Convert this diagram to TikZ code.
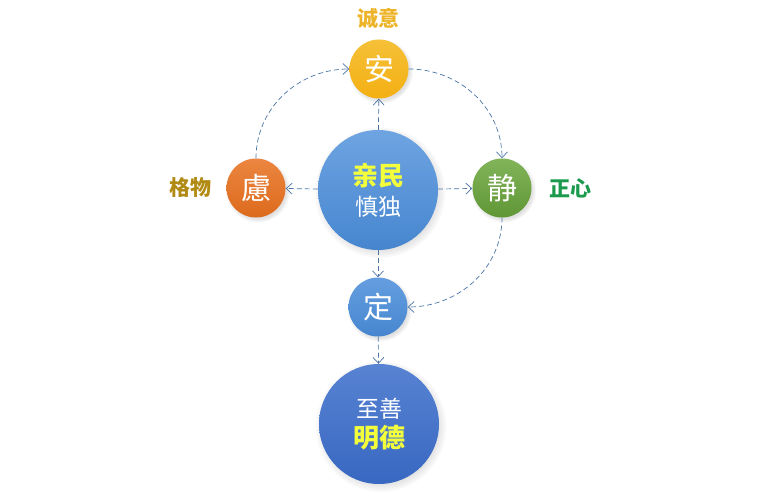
\documentclass[tikz,border=0pt]{standalone}
\usepackage{fontspec}
\setmainfont{Noto Sans CJK SC}
\usetikzlibrary{arrows.meta,shadows}
\definecolor{gold}{HTML}{F3B515}
\definecolor{orng}{HTML}{E8701E}
\definecolor{grn}{HTML}{6BA73C}
\definecolor{blu}{HTML}{4A8DDA}
\definecolor{dblu}{HTML}{3B6DCB}
\definecolor{ln}{HTML}{4A74A6}
\definecolor{ylw}{HTML}{F4FF3C}
\definecolor{lblgold}{HTML}{EDB42A}
\definecolor{lblolive}{HTML}{B08A12}
\definecolor{lblgreen}{HTML}{1B9A4E}
\tikzset{
  ball/.style={circle, inner sep=0pt, text=white,
    circular drop shadow={shadow xshift=1.5pt, shadow yshift=-2pt, fill=black!35, opacity=0.35}},
  small/.style={ball, minimum size=59pt, font=\fontsize{30}{32}\selectfont},
  big/.style={ball, minimum size=120pt, align=center, font=\fontsize{23}{30}\selectfont},
  lbl/.style={font=\bfseries\fontsize{21}{23}\selectfont},
  conn/.style={draw=ln, dashed, line width=0.7pt, dash pattern=on 5pt off 3pt, -{Straight Barb[length=6pt,width=11pt,line width=0.7pt]}}
}
\begin{document}
\begin{tikzpicture}[x=1pt,y=-1pt]
\useasboundingbox (0,0) rectangle (757,492);
\node[big, top color=blu!80!white, bottom color=blu!95!black] (qm) at (378,190)
  {\textcolor{ylw}{\bfseries\fontsize{26}{30}\selectfont 亲民}\\{\fontsize{23}{30}\selectfont 慎独}};
\node[small, top color=gold!85!white, bottom color=gold!90!orange] (an) at (379,69) {安};
\node[small, top color=orng!85!white, bottom color=orng!95!black] (lv) at (256,188) {慮};
\node[small, top color=grn!85!white, bottom color=grn!90!black] (jg) at (502,188) {静};
\node[small, top color=blu!85!white, bottom color=blu!95!black] (dg) at (378,307) {定};
\node[big, top color=dblu!85!white, bottom color=dblu!95!black] (zs) at (379,424)
  {{\fontsize{23}{29}\selectfont 至善}\\\textcolor{ylw}{\bfseries\fontsize{26}{29}\selectfont 明德}};
\node[lbl, text=lblgold] (l1) at (378,18) {诚意};
\node[lbl, text=lblolive] (l2) at (190,188) {格物};
\node[lbl, text=lblgreen] (l3) at (570,188) {正心};
\draw[conn] (qm) -- (an);
\draw[conn] (qm) -- (lv);
\draw[conn] (qm) -- (jg);
\draw[conn] (qm) -- (dg);
\draw[conn] (dg) -- (zs);
\draw[conn] (lv.north) to[out=90,in=180] (an.west);
\draw[conn] (an.east) to[out=0,in=90] (jg.north);
\draw[conn] (jg.south) to[out=-90,in=0] (dg.east);
\end{tikzpicture}
\end{document}
